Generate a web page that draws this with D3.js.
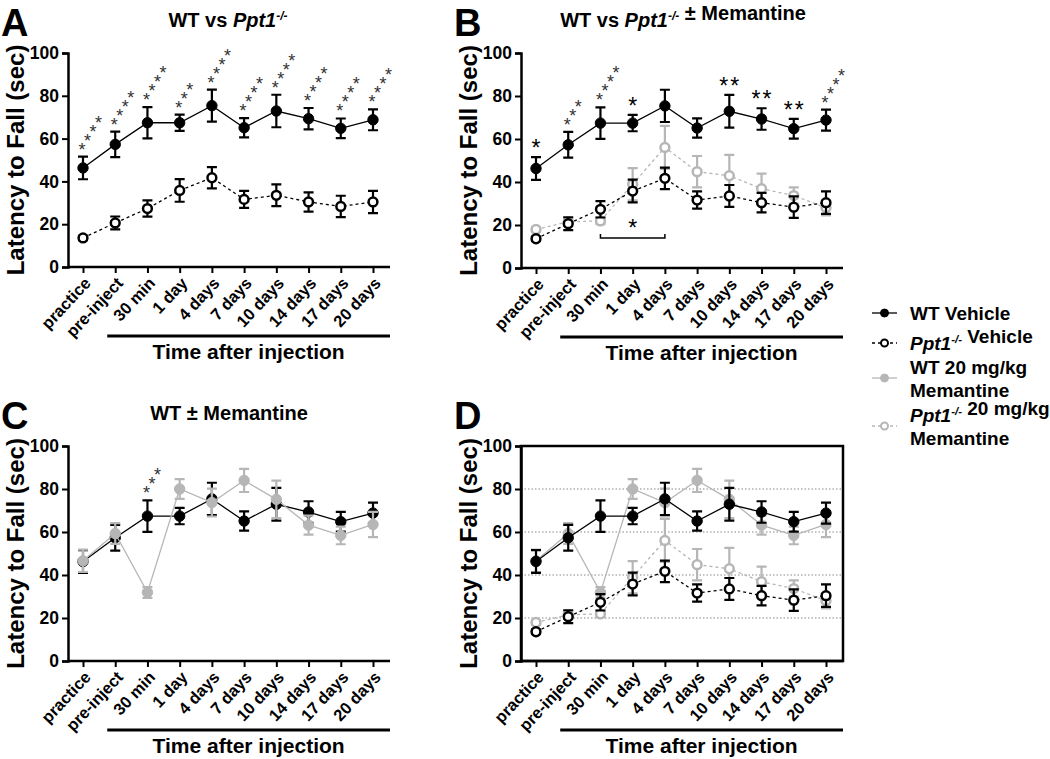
<!DOCTYPE html>
<html>
<head>
<meta charset="utf-8">
<script src="https://cdn.jsdelivr.net/npm/d3@7"></script>
<style>
  body { margin: 0; background: #fff; }
  svg { font-family: "Liberation Sans", Arial, sans-serif; font-weight: bold; }
</style>
</head>
<body>
<svg id="chart" width="1050" height="759"></svg>
<script>
// time points
var categories = ["practice", "pre-inject", "30 min", "1 day", "4 days", "7 days", "10 days", "14 days", "17 days", "20 days"];

// mean latency to fall (sec) and error bars
var wtVeh     = [46.3, 57.3, 67.4, 67.4, 75.4, 65.1, 72.9, 69.3, 64.8, 68.8];
var wtVehErr  = [5.3, 6.0, 7.3, 3.8, 7.5, 4.5, 7.6, 5.0, 4.6, 4.9];
var koVeh     = [13.6, 20.6, 27.3, 35.8, 41.7, 31.6, 33.5, 30.4, 28.3, 30.4];
var koVehErr  = [1.0, 3.0, 3.8, 5.3, 5.0, 4.0, 5.1, 4.5, 5.0, 5.2];
var wtMem     = [46.6, 59.3, 31.9, 80.0, 73.7, 84.0, 75.2, 63.2, 58.4, 63.5];
var wtMemErr  = [5.2, 4.8, 2.5, 4.6, 6.5, 5.4, 8.7, 4.4, 4.1, 5.9];
var koMem     = [17.9, 21.5, 21.9, 39.0, 56.1, 44.8, 42.9, 36.9, 33.7, 28.0];
var koMemErr  = [1.0, 1.5, 1.5, 7.5, 10.0, 7.3, 9.7, 7.0, 3.8, 3.5];

// significance marks
var sigA = ["****", "****", "****", "***", "****", "****", "****", "****", "****", "****"];
var sigB = ["*", "***", "****", "*", "", "", "**", "**", "**", "****"];
var sigC = ["", "", "***", "", "", "", "", "", "", ""];
var yTicks = [0, 20, 40, 60, 80, 100];

var GRAY = "#b6b6b6";

var series = {
  wtVeh: {vals: wtVeh, err: wtVehErr, color: "#000", fill: "#000", dash: null},
  koVeh: {vals: koVeh, err: koVehErr, color: "#000", fill: "#fff", dash: "3,3"},
  wtMem: {vals: wtMem, err: wtMemErr, color: GRAY, fill: GRAY, dash: null},
  koMem: {vals: koMem, err: koMemErr, color: GRAY, fill: "#fff", dash: "3,3"}
};

var svg = d3.select("#chart");

function ppt(sel) {
  sel.append("tspan").attr("font-style", "italic").text("Ppt1");
  sel.append("tspan").attr("font-style", "italic").attr("font-size", "0.6em")
    .attr("dy", "-0.6em").text("-/-");
  sel.append("tspan").attr("dy", "0.36em").text("");
}

function panel(p) {
  var g = svg.append("g");
  var x = d3.scalePoint().domain(categories).range([p.left + 15, p.right - 17]);
  var y = d3.scaleLinear().domain([0, 100]).range([p.bottom, p.top]);

  if (p.grid) {
    g.selectAll(".grid").data([20, 40, 60, 80]).enter().append("line")
      .attr("x1", p.left).attr("x2", p.right)
      .attr("y1", d => y(d)).attr("y2", d => y(d))
      .attr("stroke", "#888").attr("stroke-width", 1.2).attr("stroke-dasharray", "1.5,2");
    g.append("rect").attr("x", p.left).attr("y", p.top)
      .attr("width", p.right - p.left).attr("height", p.bottom - p.top)
      .attr("fill", "none").attr("stroke", "#000").attr("stroke-width", 2.5);
  }

  // y axis
  var ya = g.append("g").attr("transform", "translate(" + p.left + ",0)")
    .call(d3.axisLeft(y).tickValues(yTicks).tickSize(6).tickPadding(3));
  ya.select(".domain").attr("stroke-width", 2.5);
  ya.selectAll(".tick line").attr("stroke-width", 2);
  ya.selectAll("text").attr("font-size", 17.5).attr("font-weight", "bold").attr("fill", "#000")
    .attr("font-family", "Liberation Sans, Arial, sans-serif");

  // x axis
  var xa = g.append("g").attr("transform", "translate(0," + p.bottom + ")")
    .call(d3.axisBottom(x).tickSize(6).tickSizeOuter(0));
  xa.select(".domain").attr("d", "M" + p.left + ",0H" + p.right).attr("stroke-width", 2.5);
  xa.selectAll(".tick line").attr("stroke-width", 2);
  xa.selectAll("text").attr("font-size", 16.5).attr("font-weight", "bold").attr("fill", "#000")
    .attr("font-family", "Liberation Sans, Arial, sans-serif")
    .attr("text-anchor", "end").attr("dy", "0.35em")
    .attr("transform", "translate(4,13) rotate(-47)").attr("x", 0).attr("y", 0);

  // y label
  g.append("text").attr("transform", "translate(" + (p.left - 44) + "," + ((p.top + p.bottom) / 2) + ") rotate(-90)")
    .attr("text-anchor", "middle").attr("font-size", 24).text("Latency to Fall (sec)");

  // time after injection bar
  var lx0 = x("pre-inject") - 8;
  g.append("line").attr("x1", lx0).attr("x2", p.right)
    .attr("y1", p.bottom + 69).attr("y2", p.bottom + 69)
    .attr("stroke", "#000").attr("stroke-width", 3);
  g.append("text").attr("x", (lx0 + p.right) / 2).attr("y", p.bottom + 92)
    .attr("text-anchor", "middle").attr("font-size", 21).text("Time after injection");

  // panel letter and title
  g.append("text").attr("x", p.left - 67).attr("y", p.top - 17).attr("font-size", 38).text(p.letter);
  if (p.title) {
    var t = g.append("text").attr("x", p.titleX).attr("y", p.top - 26)
      .attr("text-anchor", "middle").attr("font-size", 20);
    p.title(t);
  }

  // series
  p.series.forEach(function(key) {
    var s = series[key];
    var pts = categories.map((c, i) => ({c: c, v: s.vals[i], e: s.err[i]}));
    g.append("path").datum(pts)
      .attr("d", d3.line().x(d => x(d.c)).y(d => y(d.v)))
      .attr("fill", "none").attr("stroke", s.color).attr("stroke-width", 1.3)
      .attr("stroke-dasharray", s.dash);
    var eb = g.append("g");
    pts.forEach(function(d) {
      var cx = x(d.c);
      eb.append("path")
        .attr("d", "M" + cx + "," + y(d.v + d.e) + "V" + y(d.v - d.e) +
          "M" + (cx - 5) + "," + y(d.v + d.e) + "H" + (cx + 5) +
          "M" + (cx - 5) + "," + y(d.v - d.e) + "H" + (cx + 5))
        .attr("stroke", s.color).attr("stroke-width", 2.2).attr("fill", "none");
    });
    g.selectAll(null).data(pts).enter().append("circle")
      .attr("cx", d => x(d.c)).attr("cy", d => y(d.v))
      .attr("r", s.fill === "#fff" ? 4.4 : 5.2)
      .attr("fill", s.fill).attr("stroke", s.color)
      .attr("stroke-width", s.fill === "#fff" ? 2.5 : 1);
  });

  // significance stars
  if (p.sig) {
    var base = series.wtVeh;
    p.sig.forEach(function(st, i) {
      if (!st) return;
      var cx = x(categories[i]);
      var top = y(base.vals[i] + base.err[i]);
      var diag = p.diag ? p.diag[i] : true;
      for (var k = 0; k < st.length; k++) {
        var sx, sy;
        if (diag) {
          sx = cx - 1 + k * 5.5;
          sy = top - 9 - k * 9;
        } else {
          sx = cx + (k - (st.length - 1) / 2) * 11;
          sy = top - 9;
        }
        g.append("text").attr("x", sx).attr("y", sy + 8).attr("text-anchor", "middle")
          .attr("font-size", diag ? 18 : 23).attr("font-weight", "normal")
          .attr("fill", diag ? "#333" : "#000").text("*");
      }
    });
  }
  if (p.bracket) {
    var bx0 = x("30 min"), bx1 = x("4 days"), by = y(14);
    g.append("path").attr("d", "M" + bx0 + "," + (by - 4) + "V" + by + "H" + bx1 + "V" + (by - 4))
      .attr("fill", "none").attr("stroke", "#000").attr("stroke-width", 1.5);
    g.append("text").attr("x", (bx0 + bx1) / 2).attr("y", by - 2).attr("text-anchor", "middle")
      .attr("font-size", 23).attr("font-weight", "normal").text("*");
  }
}

panel({letter: "A", left: 68, right: 390, top: 53, bottom: 267, titleX: 228,
  title: t => { t.append("tspan").text("WT vs "); ppt(t); },
  series: ["koVeh", "wtVeh"], sig: sigA});
panel({letter: "B", left: 521, right: 843, top: 53, bottom: 268, titleX: 683,
  title: t => { t.append("tspan").text("WT vs "); ppt(t); t.append("tspan").attr("dy", 0).text(" \u00b1 Memantine"); },
  series: ["koMem", "koVeh", "wtVeh"], sig: sigB, bracket: true,
  diag: [false, true, true, false, false, false, false, false, false, true]});
panel({letter: "C", left: 68, right: 390, top: 446, bottom: 661, titleX: 229,
  title: t => { t.append("tspan").text("WT \u00b1 Memantine"); },
  series: ["wtVeh", "wtMem"], sig: sigC});
panel({letter: "D", left: 521, right: 843, top: 446, bottom: 661, grid: true,
  series: ["koMem", "wtMem", "koVeh", "wtVeh"]});

// legend
var legend = [
  {key: "wtVeh", lines: [["WT Vehicle"]]},
  {key: "koVeh", lines: [["ppt", " Vehicle"]]},
  {key: "wtMem", lines: [["WT 20 mg/kg"], ["Memantine"]]},
  {key: "koMem", lines: [["ppt", " 20 mg/kg"], ["Memantine"]]}
];
var legY = [313, 343, 378, 426];
var lg = svg.append("g");
legend.forEach(function(d, i) {
  var s = series[d.key];
  var cy = legY[i];
  lg.append("line").attr("x1", 872).attr("x2", 897).attr("y1", cy).attr("y2", cy)
    .attr("stroke", s.color).attr("stroke-width", 1.3).attr("stroke-dasharray", s.dash);
  lg.append("circle").attr("cx", 884.5).attr("cy", cy).attr("r", s.fill === "#fff" ? 3.5 : 4)
    .attr("fill", s.fill).attr("stroke", s.color).attr("stroke-width", s.fill === "#fff" ? 2 : 1);
  var n = d.lines.length;
  d.lines.forEach(function(ln, j) {
    var t = lg.append("text").attr("x", 910).attr("y", cy + 7 + (j - (n - 1) / 2) * 23).attr("font-size", 19);
    ln.forEach(function(part) {
      if (part === "ppt") ppt(t); else t.append("tspan").text(part);
    });
  });
});
</script>
</body>
</html>
